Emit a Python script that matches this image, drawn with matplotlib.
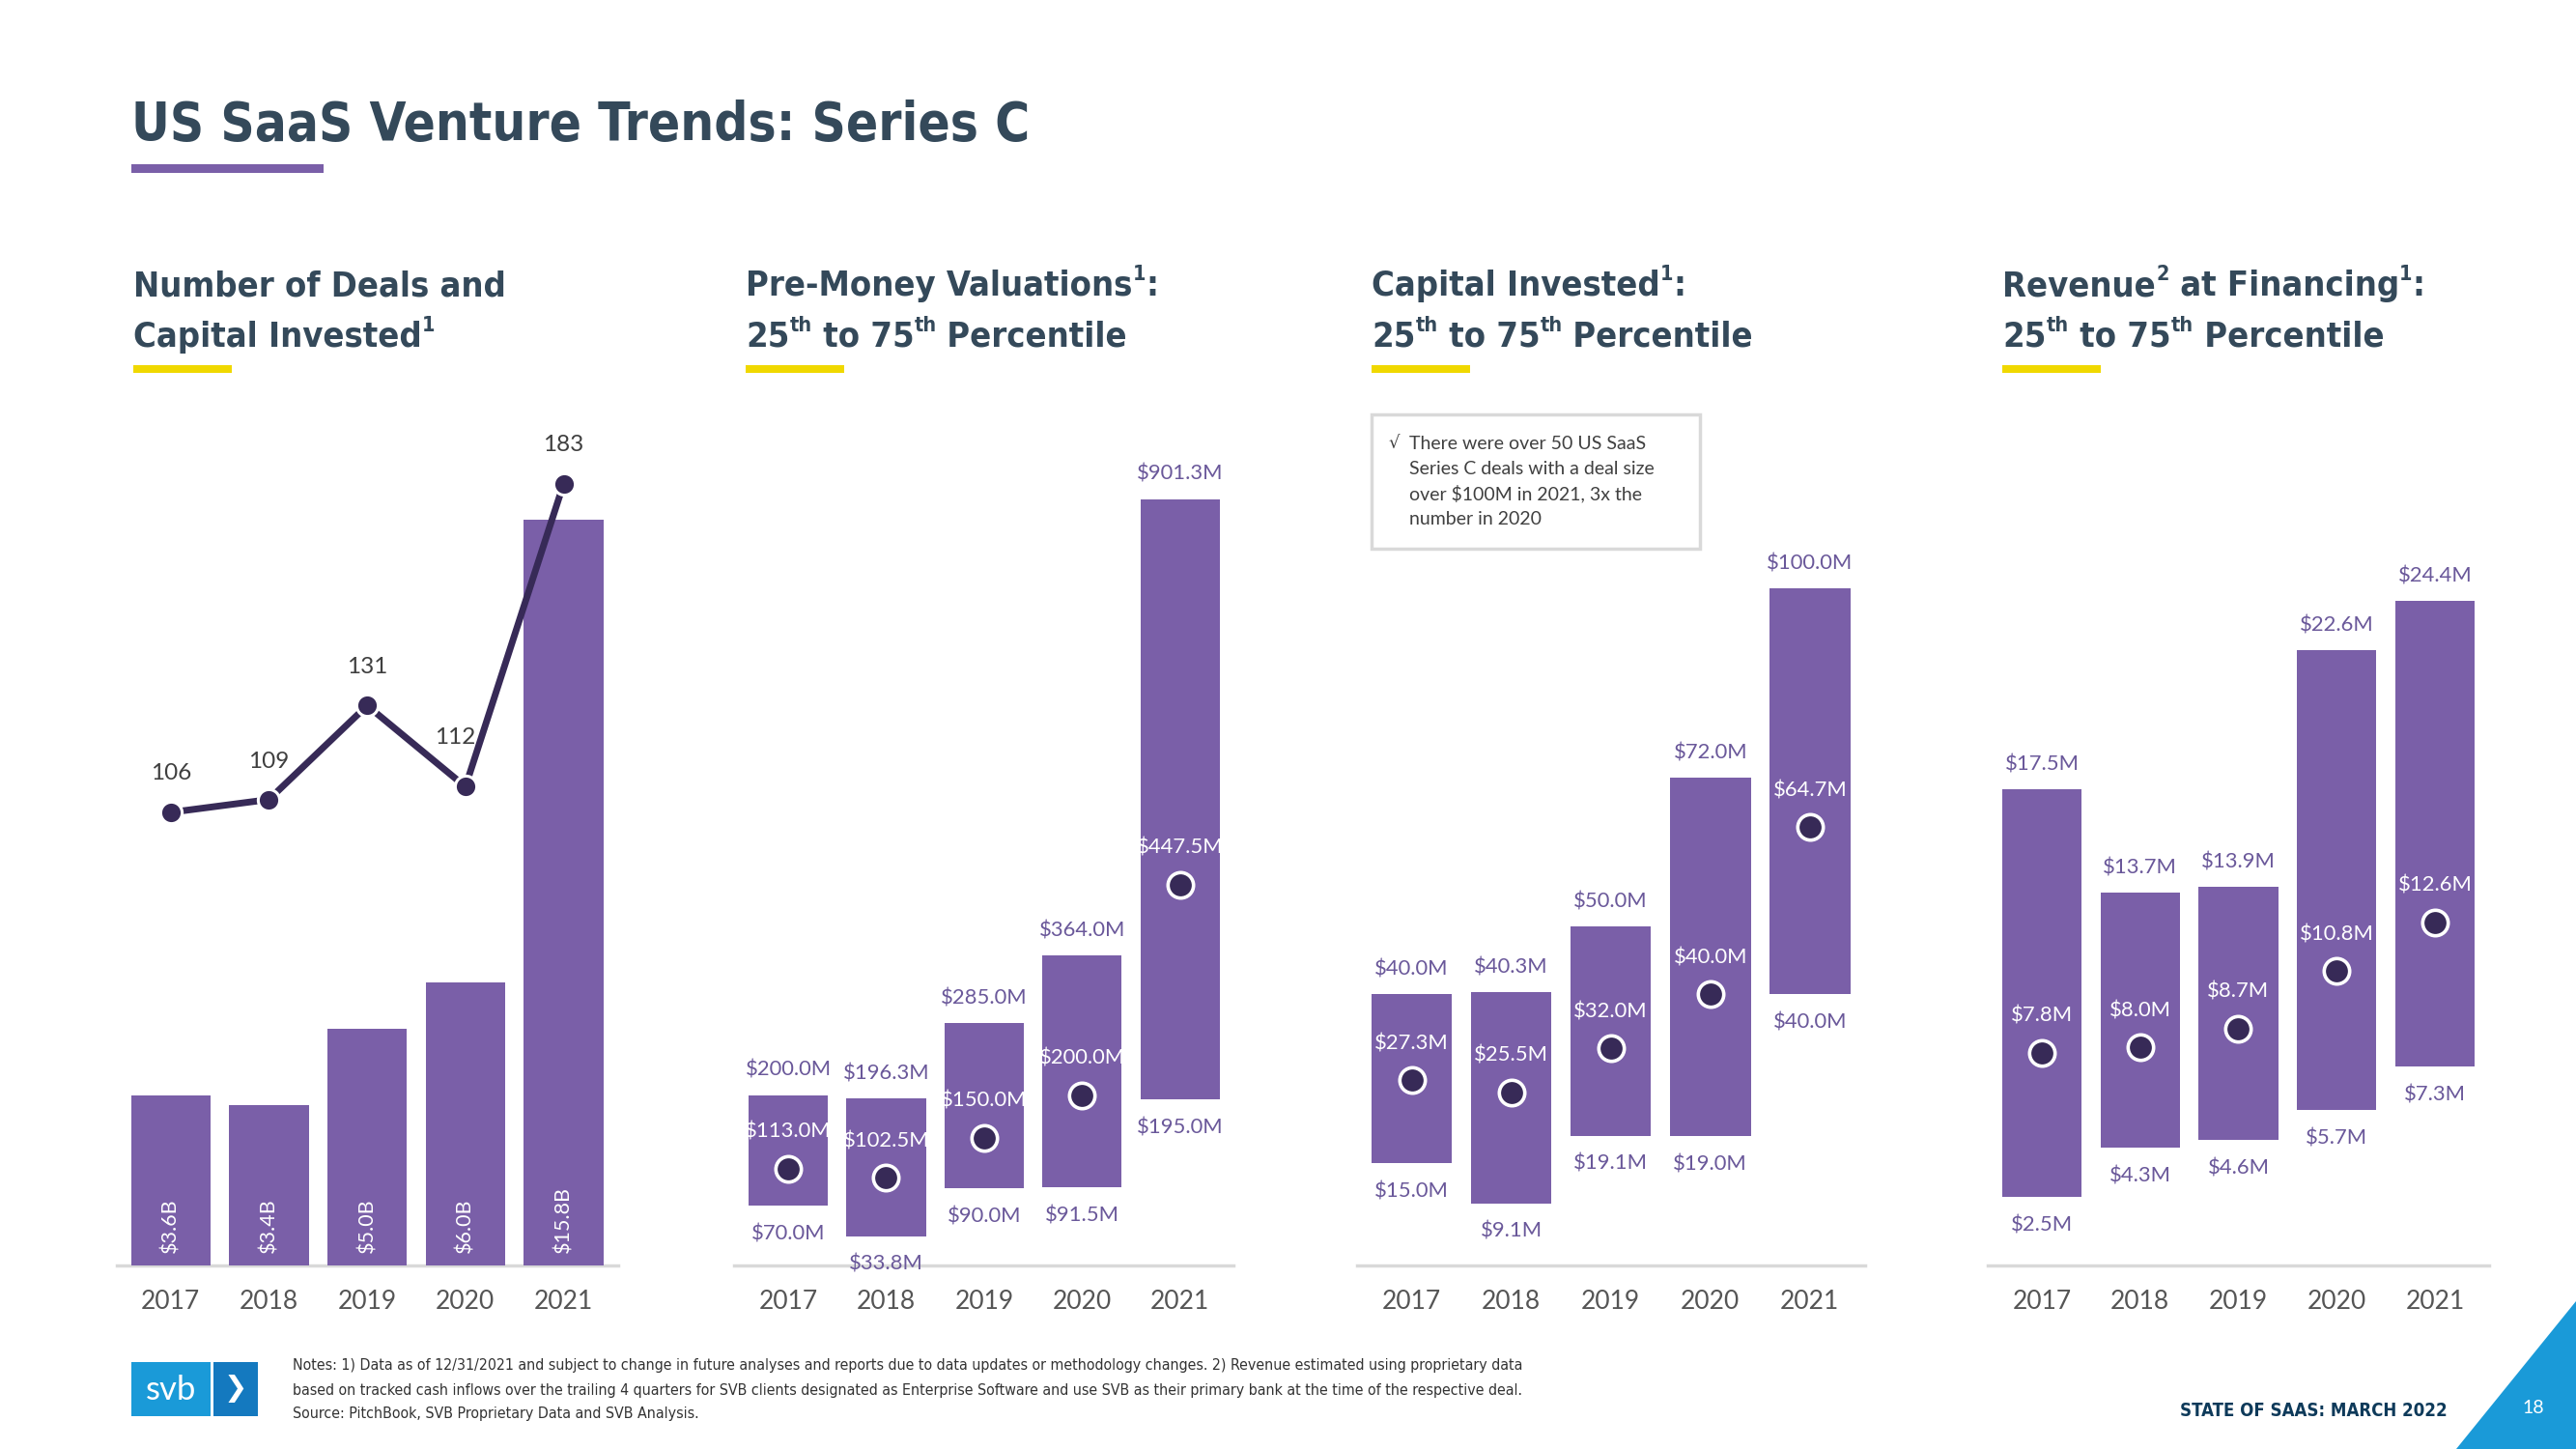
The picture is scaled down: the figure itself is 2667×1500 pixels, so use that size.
import matplotlib
matplotlib.use('Agg')
import matplotlib.pyplot as plt
import matplotlib.font_manager as fm
from matplotlib.patches import Rectangle, Polygon
import numpy as np

# ---------------- data ----------------
years = ['2017', '2018', '2019', '2020', '2021']
capital_invested_b = [3.6, 3.4, 5.0, 6.0, 15.8]
deal_counts = [106, 109, 131, 112, 183]

premoney_p25 = [70.0, 33.8, 90.0, 91.5, 195.0]
premoney_med = [113.0, 102.5, 150.0, 200.0, 447.5]
premoney_p75 = [200.0, 196.3, 285.0, 364.0, 901.3]

capital_p25 = [15.0, 9.1, 19.1, 19.0, 40.0]
capital_med = [27.3, 25.5, 32.0, 40.0, 64.7]
capital_p75 = [40.0, 40.3, 50.0, 72.0, 100.0]

revenue_p25 = [2.5, 4.3, 4.6, 5.7, 7.3]
revenue_med = [7.8, 8.0, 8.7, 10.8, 12.6]
revenue_p75 = [17.5, 13.7, 13.9, 22.6, 24.4]

title = 'US SaaS Venture Trends: Series C'
callout_lines = ['There were over 50 US SaaS', 'Series C deals with a deal size',
                 'over $100M in 2021, 3x the', 'number in 2020']
notes_lines = [
    'Notes: 1) Data as of 12/31/2021 and subject to change in future analyses and reports due to data updates or methodology changes. 2) Revenue estimated using proprietary data',
    'based on tracked cash inflows over the trailing 4 quarters for SVB clients designated as Enterprise Software and use SVB as their primary bank at the time of the respective deal.',
    'Source: PitchBook, SVB Proprietary Data and SVB Analysis.']
footer = 'STATE OF SAAS: MARCH 2022'
page_no = '18'

# ---------------- styling ----------------
W, H = 2667, 1500
SX, SY = W / 1568, H / 882
PURPLE = '#7a5fa8'
DARK = '#372a57'
TITLEC = '#34495a'
YELLOW = '#f0d800'
LABELC = '#6a589a'
YEARC = '#555555'
BASEC = '#d9d9d9'
BLUE = '#1a9ad8'

avail = {f.name for f in fm.fontManager.ttflist}
if 'Liberation Sans Narrow' in avail:
    COND = dict(family='Liberation Sans Narrow')
elif any(f.name == 'DejaVu Sans' and 'ondensed' in f.fname for f in fm.fontManager.ttflist):
    COND = dict(family='DejaVu Sans', fontstretch='condensed')
else:
    COND = dict(family='Roboto')
LIGHT = dict(family=['Lato', 'DejaVu Sans'], fontweight='normal')

fig = plt.figure(figsize=(W / 100, H / 100), dpi=100)
fig.patch.set_facecolor('white')
renderer = fig.canvas.get_renderer()


def fx(xd):
    return xd / 1568


def fy(yd):
    return 1 - yd / 882


def rect(xd0, yd0, xd1, yd1, **kw):
    fig.add_artist(Rectangle((fx(xd0), fy(yd1)), fx(xd1) - fx(xd0), fy(yd0) - fy(yd1),
                             transform=fig.transFigure, **kw))


def fit_text(xd, yd, s, target_wd, size, **kw):
    t = fig.text(fx(xd), fy(yd), s, fontsize=size, **kw)
    w = t.get_window_extent(renderer).width
    t.set_fontsize(size * target_wd * SX / w)
    return t


def rich(xd, yd, parts, size, **kw):
    xpx = xd * SX
    ypx = (882 - yd) * SY
    for s, sup in parts:
        fs = size * 0.6 if sup else size
        off = size * 0.45 * 100 / 72 if sup else 0
        t = fig.text(xpx / W, (ypx + off) / H, s, fontsize=fs, va='baseline', ha='left', **kw)
        xpx += t.get_window_extent(renderer).width


# ---------------- header ----------------
fit_text(80, 85, title, 547, 50, color=TITLEC, fontweight='bold', va='baseline', **COND)
rect(80, 100, 197, 105, color=PURPLE, lw=0)

SUB = dict(color=TITLEC, fontweight='bold', **COND)
SUBSIZE = 26
pct_line = [('25', 0), ('th', 1), (' to 75', 0), ('th', 1), (' Percentile', 0)]
subtitles = [
    (81, [('Number of Deals and', 0)], [('Capital Invested', 0), ('1', 1)]),
    (454, [('Pre-Money Valuations', 0), ('1', 1), (':', 0)], pct_line),
    (835, [('Capital Invested', 0), ('1', 1), (':', 0)], pct_line),
    (1219, [('Revenue', 0), ('2', 1), (' at Financing', 0), ('1', 1), (':', 0)], pct_line),
]
for xd, l1, l2 in subtitles:
    rich(xd, 180, l1, SUBSIZE, **SUB)
    rich(xd, 211, l2, SUBSIZE, **SUB)
    rect(xd, 222, xd + 60, 227, color=YELLOW, lw=0)

# ---------------- panels ----------------
x = np.arange(len(years))
BARW = 0.81
VSIZE = 15.8


def make_ax(x0, x1, ymax):
    ax = fig.add_axes([fx(x0), fy(770), fx(x1) - fx(x0), (770 - 260) / 882])
    ax.set_xlim(-0.55, 4.55)
    ax.set_ylim(0, ymax)
    ax.set_axis_off()
    ax.axhline(0, color=BASEC, lw=2.5, clip_on=False, zorder=1)
    for i, yv in enumerate(years):
        ax.annotate(yv, (i, 0), xytext=(0, -27), textcoords='offset points',
                    ha='center', va='center', fontsize=19, color=YEARC, **LIGHT)
    return ax


# Panel 1
ax1 = make_ax(71, 376, 17.77)
ax1.bar(x, capital_invested_b, width=BARW, color=PURPLE, zorder=2)
for i, v in enumerate(capital_invested_b):
    ax1.annotate(f'${v:.1f}B', (i, 0), xytext=(0, 9), textcoords='offset points',
                 rotation=90, ha='center', va='bottom', color='white', fontsize=15.5, **LIGHT)
ax1b = ax1.twinx()
ax1b.set_ylim(0, 196.2)
ax1b.set_axis_off()
ax1b.plot(x, deal_counts, color=DARK, lw=5, marker='o', ms=16, mfc=DARK, mec='white',
          mew=2.2, zorder=3)
count_offsets = [(0, 29), (0, 28), (0, 29), (-8, 37), (0, 29)]
for i, v in enumerate(deal_counts):
    ax1b.annotate(str(v), (i, v), xytext=count_offsets[i], textcoords='offset points',
                  ha='center', va='center', fontsize=17.5, color='#3f3f3f', **LIGHT)


def range_panel(x0, x1, ymax, p25, med, p75):
    ax = make_ax(x0, x1, ymax)
    p25 = np.array(p25)
    p75 = np.array(p75)
    ax.bar(x, p75 - p25, bottom=p25, width=BARW, color=PURPLE, zorder=2)
    ax.plot(x, med, ls='none', marker='o', ms=19, mfc=DARK, mec='white', mew=2.6, zorder=3)
    for i in range(len(x)):
        ax.annotate(f'${p75[i]:.1f}M', (i, p75[i]), xytext=(0, 18.5), textcoords='offset points',
                    ha='center', va='center', fontsize=VSIZE, color=LABELC, **LIGHT)
        ax.annotate(f'${p25[i]:.1f}M', (i, p25[i]), xytext=(0, -21), textcoords='offset points',
                    ha='center', va='center', fontsize=VSIZE, color=LABELC, **LIGHT)
        ax.annotate(f'${med[i]:.1f}M', (i, med[i]), xytext=(0, 27.5), textcoords='offset points',
                    ha='center', va='center', fontsize=VSIZE, color='white', zorder=4, **LIGHT)
    return ax


range_panel(447, 751, 986, premoney_p25, premoney_med, premoney_p75)
range_panel(826, 1135, 123.8, capital_p25, capital_med, capital_p75)
range_panel(1210, 1515, 30.8, revenue_p25, revenue_med, revenue_p75)

# callout box
rect(835, 252, 1035, 334, facecolor='white', edgecolor=BASEC, lw=2.5, zorder=5)
fig.text(fx(845), fy(270), '\u221a', fontsize=13, color='#404040', va='center', ha='left',
         family=['DejaVu Sans'], zorder=6)
for k, line in enumerate(callout_lines):
    fig.text(fx(858), fy(270 + 15.3 * k), line, fontsize=14, color='#404040', va='center',
             ha='left', zorder=6, **LIGHT)

# ---------------- footer ----------------
rect(80, 829, 128, 862, color=BLUE, lw=0)
rect(130, 829, 157, 862, color='#1479bf', lw=0)
fig.text(fx(104), fy(846), 'svb', fontsize=25, color='white', ha='center', va='center',
         family=['Lato', 'DejaVu Sans'])
fig.text(fx(143.5), fy(845.5), '\u276f', fontsize=21, color='white', ha='center', va='center',
         family=['DejaVu Sans'])

t0 = fit_text(178, 834, notes_lines[1], 750, 13, color='#333333', va='baseline', **COND)
nsize = t0.get_fontsize()
t0.set_y(fy(849))
fig.text(fx(178), fy(834), notes_lines[0], fontsize=nsize, color='#333333', va='baseline', **COND)
fig.text(fx(178), fy(863), notes_lines[2], fontsize=nsize, color='#333333', va='baseline', **COND)

fit_text(1327, 862, footer, 163, 14, color='#0e3a5a', fontweight='bold', va='baseline', **COND)

fig.add_artist(Polygon([[fx(1568), fy(792)], [fx(1568), fy(882)], [fx(1495), fy(882)]],
                       closed=True, transform=fig.transFigure, color=BLUE, lw=0))
fig.text(fx(1542), fy(857), page_no, fontsize=14, color='white', ha='center', va='center', **LIGHT)

fig.savefig('out.png', dpi=100, facecolor='white')
